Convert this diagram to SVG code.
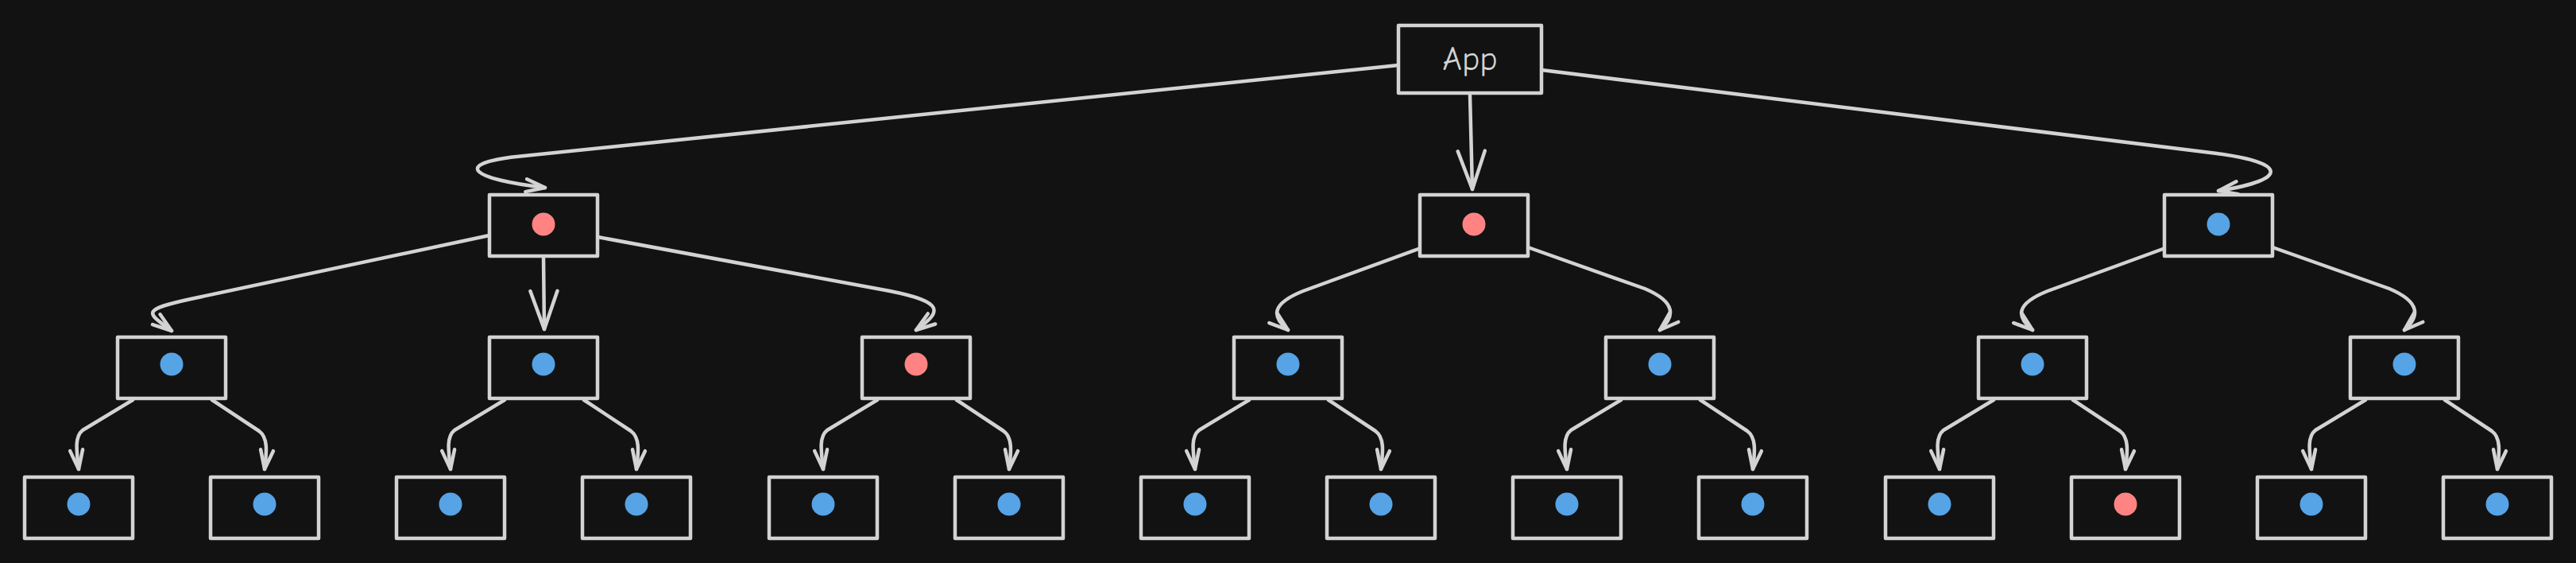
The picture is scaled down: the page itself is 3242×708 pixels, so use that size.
<svg xmlns="http://www.w3.org/2000/svg" width="3242" height="708" viewBox="0 0 3242 708">
<style>
.bg{fill:#121212}
.box{fill:#121212;stroke:#d3d3d3;stroke-width:4.5;stroke-linejoin:round}
.lbl{font-family:"Comic Neue","Liberation Sans",sans-serif;font-size:42px;fill:#d3d3d3;text-anchor:middle}
.red{fill:#ff8383}
.blue{fill:#56a3e6}
.edge{fill:none;stroke:#d3d3d3;stroke-width:4.5;stroke-linecap:round;stroke-linejoin:round}
.small{marker-end:url(#hs)}
.big{marker-end:url(#hb)}
</style>
<defs>
<marker id="hs" markerUnits="userSpaceOnUse" viewBox="-3 -3 30 22" markerWidth="30" markerHeight="22" refX="24" refY="8" orient="auto">
<path d="M0 0 L24 8 L0 16" fill="none" stroke="#d3d3d3" stroke-width="4.5" stroke-linecap="round" stroke-linejoin="round"/>
</marker>
<marker id="hb" markerUnits="userSpaceOnUse" viewBox="-3 -3 54 40" markerWidth="54" markerHeight="40" refX="48" refY="17" orient="auto">
<path d="M0 0 L48 17 L0 34" fill="none" stroke="#d3d3d3" stroke-width="4.5" stroke-linecap="round" stroke-linejoin="round"/>
</marker>
</defs>
<rect class="bg" x="0" y="0" width="3242" height="708"/>
<g id="connectors">
<path class="edge small" d="M1760 82 L650 197 C570 206 592 225 686 236"/>
<path class="edge big" d="M1850 119 L1853 238"/>
<path class="edge small" d="M1940 88 L2790 193 C2880 205 2880 226 2792 240"/>
<path class="edge small" d="M616 296 L240 376 C176 390 185 393 216 416"/>
<path class="edge big" d="M684 323 L685 414"/>
<path class="edge small" d="M752 298 L1120 366 C1190 380 1185 392 1153 415"/>
<path class="edge small" d="M1788 312 L1640 366 C1600 382 1600 398 1621 415"/>
<path class="edge small" d="M1923 311 L2070 363 C2110 380 2108 398 2089 415"/>
<path class="edge small" d="M2725 312 L2577 366 C2537 382 2537 398 2558 415"/>
<path class="edge small" d="M2860 311 L3007 363 C3047 380 3045 398 3026 415"/>
<path class="edge small" d="M167 503 L104 541 C94 549 96 565 99 590"/>
<path class="edge small" d="M267 503 L326 542 C337 550 336 566 333 590"/>
<path class="edge small" d="M635 503 L572 541 C562 549 564 565 567 590"/>
<path class="edge small" d="M735 503 L794 542 C805 550 804 566 801 590"/>
<path class="edge small" d="M1104 503 L1041 541 C1031 549 1033 565 1036 590"/>
<path class="edge small" d="M1204 503 L1263 542 C1274 550 1273 566 1270 590"/>
<path class="edge small" d="M1572 503 L1509 541 C1499 549 1501 565 1504 590"/>
<path class="edge small" d="M1672 503 L1731 542 C1742 550 1741 566 1738 590"/>
<path class="edge small" d="M2040 503 L1977 541 C1967 549 1969 565 1972 590"/>
<path class="edge small" d="M2140 503 L2199 542 C2210 550 2209 566 2206 590"/>
<path class="edge small" d="M2509 503 L2446 541 C2436 549 2438 565 2441 590"/>
<path class="edge small" d="M2609 503 L2668 542 C2679 550 2678 566 2675 590"/>
<path class="edge small" d="M2977 503 L2914 541 C2904 549 2906 565 2909 590"/>
<path class="edge small" d="M3077 503 L3136 542 C3147 550 3146 566 3143 590"/>
</g>
<g id="app"><rect class="box" x="1760" y="32" width="180" height="85"/><text class="lbl" x="1850" y="88">App</text></g>
<g id="n1a"><rect class="box" x="616" y="245" width="136" height="77"/><circle class="red" cx="684" cy="282" r="14.5"/></g>
<g id="n1b"><rect class="box" x="1787" y="245" width="136" height="77"/><circle class="red" cx="1855" cy="282" r="14.5"/></g>
<g id="n1c"><rect class="box" x="2724" y="245" width="136" height="77"/><circle class="blue" cx="2792" cy="282" r="14.5"/></g>
<g id="n2a"><rect class="box" x="148" y="424" width="136" height="77"/><circle class="blue" cx="216" cy="458" r="14.5"/></g>
<g id="n2b"><rect class="box" x="616" y="424" width="136" height="77"/><circle class="blue" cx="684" cy="458" r="14.5"/></g>
<g id="n2c"><rect class="box" x="1085" y="424" width="136" height="77"/><circle class="red" cx="1153" cy="458" r="14.5"/></g>
<g id="n2d"><rect class="box" x="1553" y="424" width="136" height="77"/><circle class="blue" cx="1621" cy="458" r="14.5"/></g>
<g id="n2e"><rect class="box" x="2021" y="424" width="136" height="77"/><circle class="blue" cx="2089" cy="458" r="14.5"/></g>
<g id="n2f"><rect class="box" x="2490" y="424" width="136" height="77"/><circle class="blue" cx="2558" cy="458" r="14.5"/></g>
<g id="n2g"><rect class="box" x="2958" y="424" width="136" height="77"/><circle class="blue" cx="3026" cy="458" r="14.5"/></g>
<g id="n3a"><rect class="box" x="31" y="600" width="136" height="77"/><circle class="blue" cx="99" cy="634" r="14.5"/></g>
<g id="n3b"><rect class="box" x="265" y="600" width="136" height="77"/><circle class="blue" cx="333" cy="634" r="14.5"/></g>
<g id="n3c"><rect class="box" x="499" y="600" width="136" height="77"/><circle class="blue" cx="567" cy="634" r="14.5"/></g>
<g id="n3d"><rect class="box" x="733" y="600" width="136" height="77"/><circle class="blue" cx="801" cy="634" r="14.5"/></g>
<g id="n3e"><rect class="box" x="968" y="600" width="136" height="77"/><circle class="blue" cx="1036" cy="634" r="14.5"/></g>
<g id="n3f"><rect class="box" x="1202" y="600" width="136" height="77"/><circle class="blue" cx="1270" cy="634" r="14.5"/></g>
<g id="n3g"><rect class="box" x="1436" y="600" width="136" height="77"/><circle class="blue" cx="1504" cy="634" r="14.5"/></g>
<g id="n3h"><rect class="box" x="1670" y="600" width="136" height="77"/><circle class="blue" cx="1738" cy="634" r="14.5"/></g>
<g id="n3i"><rect class="box" x="1904" y="600" width="136" height="77"/><circle class="blue" cx="1972" cy="634" r="14.5"/></g>
<g id="n3j"><rect class="box" x="2138" y="600" width="136" height="77"/><circle class="blue" cx="2206" cy="634" r="14.5"/></g>
<g id="n3k"><rect class="box" x="2373" y="600" width="136" height="77"/><circle class="blue" cx="2441" cy="634" r="14.5"/></g>
<g id="n3l"><rect class="box" x="2607" y="600" width="136" height="77"/><circle class="red" cx="2675" cy="634" r="14.5"/></g>
<g id="n3m"><rect class="box" x="2841" y="600" width="136" height="77"/><circle class="blue" cx="2909" cy="634" r="14.5"/></g>
<g id="n3n"><rect class="box" x="3075" y="600" width="136" height="77"/><circle class="blue" cx="3143" cy="634" r="14.5"/></g>
</svg>
